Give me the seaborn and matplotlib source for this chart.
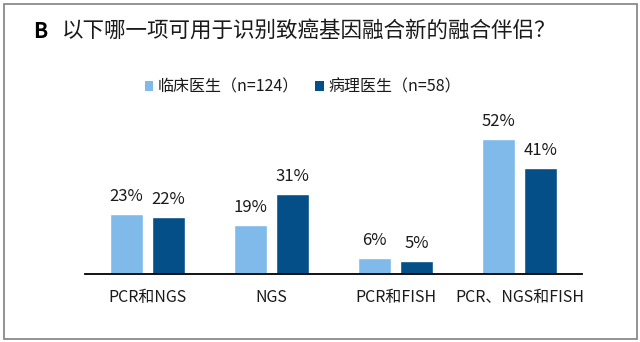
import matplotlib
matplotlib.use("Agg")
import matplotlib.pyplot as plt
from matplotlib.patches import Rectangle, Patch
import seaborn as sns
import pandas as pd

# Survey answers: share of respondents choosing each method (%)
methods = ["PCR和NGS", "NGS", "PCR和FISH", "PCR、NGS和FISH"]
clinicians = [23, 19, 6, 52]
pathologists = [22, 31, 5, 41]
groups = ["临床医生（n=124）", "病理医生（n=58）"]
title = "以下哪一项可用于识别致癌基因融合新的融合伴侣？"
panel = "B"

light_blue = "#80BAEA"
dark_blue = "#044F87"

sns.set_theme(style="white")
plt.rcParams["font.family"] = ["Noto Sans CJK SC", "DejaVu Sans"]

df = pd.DataFrame({
    "method": methods * 2,
    "pct": clinicians + pathologists,
    "group": [groups[0]] * len(methods) + [groups[1]] * len(methods),
})

W, H = 640, 342
fig = plt.figure(figsize=(W / 100, H / 100), dpi=100)
ax = fig.add_axes([85 / W, (H - 274) / H, (582 - 85) / W, 174 / H])

sns.barplot(data=df, x="method", y="pct", hue="group",
            palette=[light_blue, dark_blue], width=0.676, gap=0.21,
            saturation=1, ax=ax, legend=False)

ax.set_xlim(-0.5, len(methods) - 0.5)
ax.set_ylim(0, 67.2)
ax.set_xlabel("")
ax.set_ylabel("")
ax.set_yticks([])
for side in ("left", "right", "top"):
    ax.spines[side].set_visible(False)
ax.spines["bottom"].set_color("black")
ax.spines["bottom"].set_linewidth(1.3)
ax.tick_params(axis="x", length=0, pad=10.5, labelsize=11.5, labelcolor="#1a1a1a")

for container, values in zip(ax.containers, [clinicians, pathologists]):
    ax.bar_label(container, labels=[f"{v}%" for v in values],
                 padding=6.5, fontsize=12, color="#1a1a1a")

handles = [Patch(facecolor=light_blue, edgecolor="none"),
           Patch(facecolor=dark_blue, edgecolor="none")]
fig.legend(handles, groups, loc="center", bbox_to_anchor=(303 / W, 1 - 87 / H),
           ncol=2, frameon=False, fontsize=11.5, handlelength=0.55,
           handleheight=0.55, handletextpad=0.3, columnspacing=1.0,
           borderpad=0, labelcolor="#1a1a1a")

fig.text(33 / W, 1 - 31 / H, panel, fontsize=15, fontweight="bold",
         va="center", ha="left", color="black")
fig.text(62 / W, 1 - 31 / H, title, fontsize=15.5, va="center", ha="left",
         color="#1a1a1a")

fig.add_artist(Rectangle((3.5 / W, 3.5 / H), 633 / W, 335 / H,
                         transform=fig.transFigure, fill=False,
                         edgecolor="#808080", linewidth=1.2))

fig.savefig("out.png", dpi=100)
